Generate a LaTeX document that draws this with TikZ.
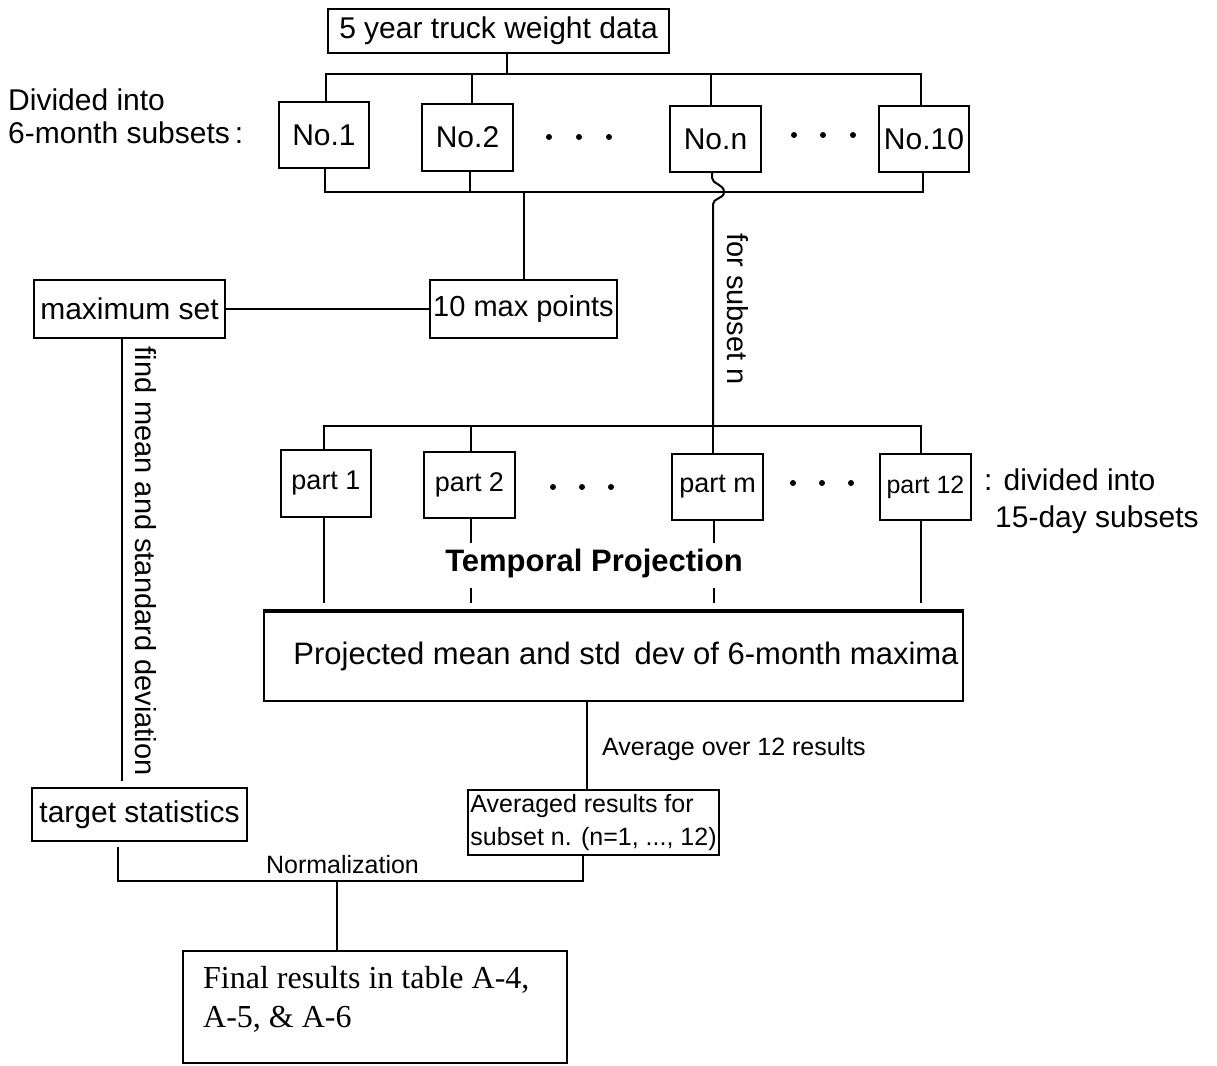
\documentclass[tikz,border=0pt]{standalone}
\usepackage{fontspec}
\setmainfont{Liberation Sans}
\newfontfamily\serifface{Liberation Serif}
\begin{document}
\begin{tikzpicture}[x=1pt,y=-1pt,
  bx/.style={draw, line width=2pt, inner sep=0pt},
  wire/.style={line width=2pt},
  lite/.style={line width=1.5pt},
  fa/.style={font=\fontsize{30}{33}\selectfont},
  fb/.style={font=\fontsize{27}{30}\selectfont},
  fc/.style={font=\fontsize{25}{33}\selectfont},
  ]
\useasboundingbox (0,0) rectangle (1217,1065);

% top level
\node[bx,fa,minimum width=341,minimum height=44] (top) at (498.5,31) {5 year truck weight data};
\node[fa,align=left,anchor=west,inner sep=0pt] (divtxt) at (8,116) {Divided into\\6-month subsets\,:};

\node[bx,fa,minimum width=90,minimum height=66] (n1) at (324,135) {No.1};
\node[bx,fa,minimum width=91,minimum height=67] (n2) at (467.5,137.5) {No.2};
\node[bx,fa,minimum width=91,minimum height=66] (nn) at (715.5,139) {No.n};
\node[bx,fa,minimum width=90,minimum height=66] (n10) at (924,139) {No.10};

\foreach \x in {549,579,609} \fill (\x,137) circle (3);
\foreach \x in {794,823,853} \fill (\x,135) circle (3);

\coordinate (tb) at (507,74);
\draw[wire] ([xshift=8.5pt]top.south) -- (tb);
\draw[wire] ([xshift=2pt]n1.north) -- ([xshift=2pt]n1.north |- tb) -- ([xshift=-3pt]n10.north |- tb) -- ([xshift=-3pt]n10.north);
\draw[wire] ([xshift=4.5pt]n2.north) -- ([xshift=4.5pt]n2.north |- tb);
\draw[wire] ([xshift=-4.5pt]nn.north) -- ([xshift=-4.5pt]nn.north |- tb);

% lower bus
\coordinate (bb) at (524,192);
\draw[wire] ([xshift=1pt]n1.south) -- ([xshift=1pt]n1.south |- bb) -- ([xshift=-1pt]n10.south |- bb) -- ([xshift=-1pt]n10.south);
\draw[wire] ([xshift=2.5pt]n2.south) -- ([xshift=2.5pt]n2.south |- bb);

% max points
\node[bx,font=\fontsize{29}{33}\selectfont,minimum width=187,minimum height=58] (maxpts) at (523.5,309) {10 max points};
\node[bx,fa,minimum width=191,minimum height=58] (maxset) at (129.5,309) {maximum set};
\draw[wire] (bb) -- (bb |- maxpts.north);
\draw[wire] (maxset.east) -- (maxpts.west);

% find mean vertical
\coordinate (fmend) at (122,781);
\draw[wire] (fmend |- maxset.south) -- (fmend);
\node[font=\fontsize{29}{33}\selectfont,rotate=-90,inner sep=0pt] (fmtxt) at (146,561) {find mean and standard deviation};

% parts
\node[bx,fb,minimum width=90,minimum height=67] (p1) at (326,483.5) {part 1};
\node[bx,fb,minimum width=91,minimum height=66] (p2) at (469.5,485) {part 2};
\node[bx,fb,minimum width=91,minimum height=66] (pm) at (717.5,487) {part m};
\node[bx,font=\fontsize{25}{30}\selectfont,minimum width=91,minimum height=66] (p12) at (925.5,487) {part 12};
\foreach \x in {553,582,611} \fill (\x,487) circle (3);
\foreach \x in {793,822,851} \fill (\x,483) circle (3);
\node[fa,align=left,anchor=west,inner sep=0pt] (divpart) at (984,501) {: divided into\\[4pt]\hspace*{11pt}15-day subsets};

% subset n line with jump
\coordinate (pb) at (713,426);
\draw[wire] ([xshift=-3.5pt]nn.south) -- (712,178) .. controls (712,184) and (724,184) .. (724,192) .. controls (724,199) and (713,198) .. (713,204) -- (pb);
\node[font=\fontsize{29}{33}\selectfont,rotate=-90,inner sep=0pt] (fsn) at (738,309) {for subset n};
\draw[wire] ([xshift=-2pt]p1.north) -- ([xshift=-2pt]p1.north |- pb) -- ([xshift=-4.5pt]p12.north |- pb) -- ([xshift=-4.5pt]p12.north);
\draw[wire] ([xshift=1.5pt]p2.north) -- ([xshift=1.5pt]p2.north |- pb);
\draw[wire] ([xshift=-4.5pt]pm.north) -- ([xshift=-4.5pt]pm.north |- pb);

% below parts
\coordinate (e1) at (324,603);
\coordinate (e2) at (471,603);
\coordinate (em) at (714,603);
\coordinate (e12) at (921,603);
\draw[wire] (e1 |- p1.south) -- (e1);
\draw[wire] (e12 |- p12.south) -- (e12);
\draw[wire] (e2 |- p2.south) -- (471,543);
\draw[wire] (471,588) -- (e2);
\draw[wire] (em |- pm.south) -- (714,543);
\draw[wire] (714,588) -- (em);
\node[font=\fontsize{31}{33}\selectfont\bfseries,inner sep=0pt] (tp) at (594,563) {Temporal Projection};

% big box
\node[bx,font=\fontsize{31}{33}\selectfont,minimum width=699,minimum height=89] (big) at (613.5,656.5) {\hspace*{25pt}Projected mean and std\, dev of 6-month maxima};
\draw[line width=4.5pt] (big.north west) -- (big.north east);

% averaged
\node[draw,line width=1.5pt,inner sep=0pt,fc,align=left,minimum width=251,minimum height=65] (avg) at (593.5,822.5) {Averaged results for\\subset n. (n=1, ..., 12)};
\coordinate (sx) at (587,701);
\draw[lite] (sx |- big.south) -- (sx |- avg.north);
\node[fc,anchor=west,inner sep=0pt] (avtxt) at (602,749) {Average over 12 results};

% target
\node[bx,fa,minimum width=215,minimum height=53] (tgt) at (139.5,814.5) {target statistics};

% normalization
\coordinate (nl) at (118,847);
\coordinate (nr) at (583,881);
\coordinate (nm) at (337,881);
\draw[lite] (nl) -- (nl |- nr) -- (nr) -- (nr |- avg.south);
\node[fc,inner sep=0pt] (normtxt) at (342.5,865) {Normalization};

% final
\node[draw,line width=1.3pt,inner sep=0pt,minimum width=384,minimum height=112] (fin) at (375,1007) {};
\draw[lite] (nm) -- (nm |- fin.north);
\node[font=\serifface\fontsize{32}{39}\selectfont,align=left,anchor=north west,inner sep=0pt] (fintxt) at (203,966) {Final results in table A-4,\\A-5, \& A-6};

\end{tikzpicture}
\end{document}
